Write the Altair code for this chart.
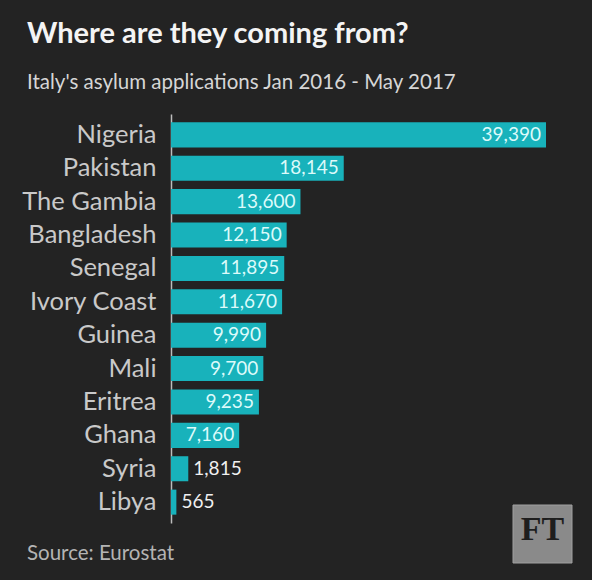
import altair as alt
import pandas as pd

countries = ["Nigeria", "Pakistan", "The Gambia", "Bangladesh", "Senegal", "Ivory Coast",
             "Guinea", "Mali", "Eritrea", "Ghana", "Syria", "Libya"]
values = [39390, 18145, 13600, 12150, 11895, 11670, 9990, 9700, 9235, 7160, 1815, 565]

title_text = "Where are they coming from?"
subtitle_text = "Italy's asylum applications Jan 2016 - May 2017"
source_text = "Source: Eurostat"
logo_text = "FT"

df = pd.DataFrame({"country": countries, "value": values})
df["inside"] = df["value"] > 5000

FONT = "Lato"
BG = "#232323"
BAR = "#18b2bb"

y_enc = alt.Y("country:N", sort=countries,
              scale=alt.Scale(paddingInner=0.25, paddingOuter=0.25),
              axis=alt.Axis(title=None, ticks=False, grid=False, domain=True,
                            domainColor="#bdbdbd", domainWidth=1.5,
                            labelFont=FONT, labelFontSize=25.5, labelColor="#c9c9c9",
                            labelPadding=15, labelLimit=300))
x_enc = alt.X("value:Q", scale=alt.Scale(domain=[0, 39390], nice=False, zero=True), axis=None)

base = alt.Chart(df)
bars = base.mark_bar(color=BAR).encode(y=y_enc, x=x_enc)
lab_in = base.transform_filter("datum.inside").mark_text(
    align="right", baseline="middle", dx=-5, font=FONT, fontSize=19, color="#dcfafa"
).encode(y=alt.Y("country:N", sort=countries), x="value:Q", text=alt.Text("value:Q", format=","))
lab_out = base.transform_filter("!datum.inside").mark_text(
    align="left", baseline="middle", dx=5, font=FONT, fontSize=19, color="#f0f0f0"
).encode(y=alt.Y("country:N", sort=countries), x="value:Q", text=alt.Text("value:Q", format=","))

ann = pd.DataFrame({"t": [source_text]})
source = alt.Chart(ann).mark_text(align="left", baseline="alphabetic", font=FONT, fontSize=20.5,
                                  color="#b4b4b4").encode(
    x=alt.value(-144), y=alt.value(446), text="t:N")

logo_df = pd.DataFrame({"t": [logo_text]})
logo_box = alt.Chart(logo_df).mark_rect(color="#8a8a8a", stroke="#a0a0a0", strokeWidth=1).encode(
    x=alt.value(342), x2=alt.value(401), y=alt.value(391), y2=alt.value(449))
logo_txt = alt.Chart(logo_df).mark_text(align="center", baseline="middle", font="Liberation Serif",
                                        fontSize=34, fontWeight="bold", color="#1e1e1e").encode(
    x=alt.value(371.5), y=alt.value(416), text="t:N")

chart = alt.layer(bars, lab_in, lab_out, source, logo_box, logo_txt).properties(
    width=375, height=409,
    background=BG,
    autosize=alt.AutoSizeParams(type="none"),
    padding={"left": 171, "top": 114, "right": 46, "bottom": 57},
    title=alt.TitleParams(
        text=title_text, subtitle=subtitle_text, anchor="start", frame="group",
        dx=-144, offset=21, font=FONT, fontSize=29, fontWeight="bold", color="#f4f4f4",
        subtitleFont=FONT, subtitleFontSize=20.5, subtitleColor="#d6d6d6", subtitlePadding=24,
    ),
).configure_view(stroke=None)

chart.save("out.html", embed_options={"renderer": "svg", "actions": False})
